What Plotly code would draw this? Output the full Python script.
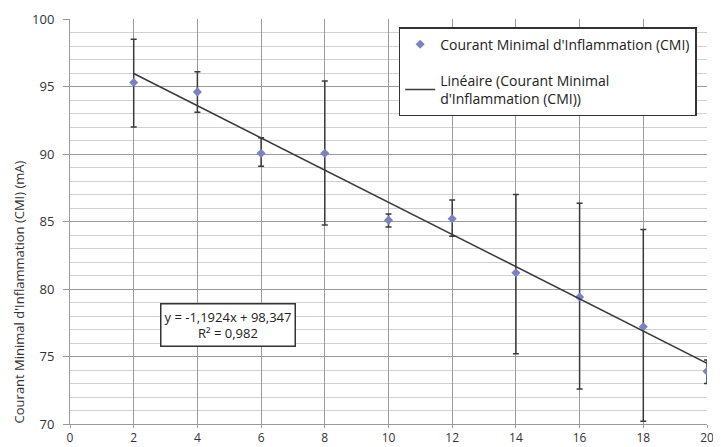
import plotly.graph_objects as go

x_vals = [2, 4, 6, 8, 10, 12, 14, 16, 18, 20]
cmi = [95.3, 94.6, 90.05, 90.05, 85.1, 85.2, 81.2, 79.4, 77.2, 73.9]
err_hi = [98.5, 96.1, 91.2, 95.4, 85.55, 86.6, 87.0, 86.35, 84.4, 74.75]
err_lo = [92.0, 93.1, 89.1, 84.75, 84.6, 83.9, 75.2, 72.6, 70.2, 73.0]
slope = -1.1924
intercept = 98.347
r2 = "0,982"

plus = [h - v for h, v in zip(err_hi, cmi)]
minus = [v - l for l, v in zip(err_lo, cmi)]
trend_x = [x_vals[0], x_vals[-1]]
trend_y = [slope * t + intercept for t in trend_x]

font = "'Open Sans', Lato, sans-serif"

fig = go.Figure()
fig.add_trace(go.Scatter(
    x=x_vals, y=cmi, mode="markers",
    name="Courant Minimal d'Inflammation (CMI)", legendgroup="a",
    marker=dict(symbol="diamond", size=7, color="#7c80c6"),
    error_y=dict(type="data", symmetric=False, array=plus, arrayminus=minus,
                 color="#3a3a3a", thickness=1.5, width=3),
))
fig.add_trace(go.Scatter(
    x=trend_x, y=trend_y, mode="lines",
    name="Linéaire (Courant Minimal<br>d'Inflammation (CMI))", legendgroup="b",
    line=dict(color="#3a3a3a", width=1.5),
))

fig.add_annotation(
    x=4.95, y=77.33, xref="x", yref="y",
    text="y = -1,1924x + 98,347<br>R² = " + r2,
    showarrow=False, align="center",
    font=dict(family=font, size=13, color="#222"),
    bgcolor="white", bordercolor="#333", borderwidth=1.5, borderpad=3,
)
fig.add_annotation(
    x=-0.08, y=0.325, xref="paper", yref="paper",
    text="Courant Minimal d'Inflammation (CMI) (mA)",
    textangle=-90, showarrow=False, xanchor="center", yanchor="middle",
    font=dict(family=font, size=13, color="#333"),
)

fig.update_layout(
    width=721, height=447,
    margin=dict(l=62, r=22, t=11, b=31),
    paper_bgcolor="white", plot_bgcolor="white",
    font=dict(family=font, size=13, color="#333"),
    showlegend=True,
    legend=dict(x=0.516, y=0.98, xanchor="left", yanchor="top",
                bgcolor="white", bordercolor="#333", borderwidth=1.5,
                font=dict(family=font, size=14, color="#222"),
                tracegroupgap=15, itemwidth=30),
    xaxis=dict(range=[0, 20], tickvals=list(range(0, 21, 2)),
               showgrid=True, gridcolor="#9a9a9a", gridwidth=1,
               zeroline=False, showline=True, linecolor="#9a9a9a",
               ticks="outside", ticklen=3, tickcolor="#9a9a9a",
               tickfont=dict(size=12), ticklabelstandoff=0, automargin=False),
    yaxis=dict(range=[70, 100], tickvals=list(range(70, 101, 5)),
               showgrid=True, gridcolor="#9a9a9a", gridwidth=1,
               minor=dict(dtick=1, showgrid=True, gridcolor="#d0d0d0", gridwidth=1),
               zeroline=False, showline=True, linecolor="#9a9a9a",
               ticks="outside", ticklen=6, tickcolor="#9a9a9a",
               tickfont=dict(size=13), ticklabelstandoff=6, automargin=False),
)

fig.write_html("out.html")
